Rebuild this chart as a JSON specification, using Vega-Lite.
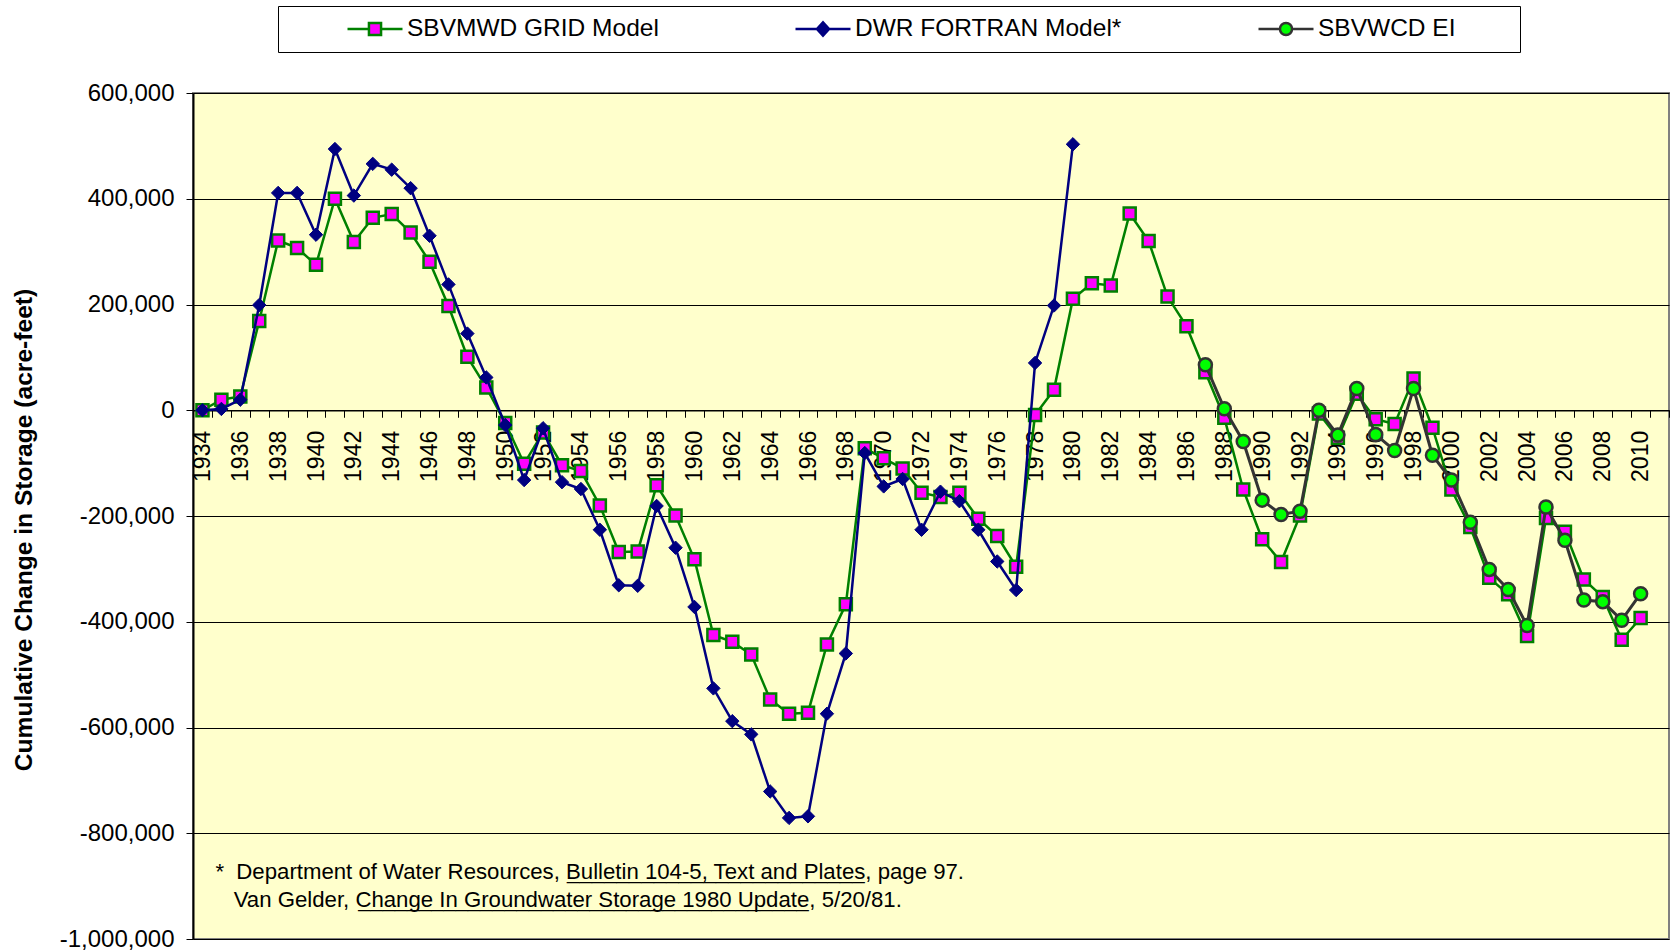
{
  "$schema": "https://vega.github.io/schema/vega-lite/v6.json",
  "width": 1476,
  "height": 846,
  "autosize": {"type": "none"},
  "padding": {"left": 193, "top": 93, "right": 4, "bottom": 13},
  "background": "#FFFFFF",
  "config": {
    "font": "Liberation Sans",
    "view": {"fill": "#FFFFCC", "stroke": "#808080", "strokeWidth": 2},
    "axis": {"labelFont": "Liberation Sans", "titleFont": "Liberation Sans", "labelColor": "#000000", "titleColor": "#000000", "tickColor": "#000000", "domainColor": "#000000"}
  },
  "data": {
    "values": [
      {"year": 1934, "s": "SBVMWD GRID Model", "v": 0},
      {"year": 1935, "s": "SBVMWD GRID Model", "v": 20000},
      {"year": 1936, "s": "SBVMWD GRID Model", "v": 26000},
      {"year": 1937, "s": "SBVMWD GRID Model", "v": 169000},
      {"year": 1938, "s": "SBVMWD GRID Model", "v": 321000},
      {"year": 1939, "s": "SBVMWD GRID Model", "v": 307000},
      {"year": 1940, "s": "SBVMWD GRID Model", "v": 275000},
      {"year": 1941, "s": "SBVMWD GRID Model", "v": 400000},
      {"year": 1942, "s": "SBVMWD GRID Model", "v": 318000},
      {"year": 1943, "s": "SBVMWD GRID Model", "v": 364000},
      {"year": 1944, "s": "SBVMWD GRID Model", "v": 371000},
      {"year": 1945, "s": "SBVMWD GRID Model", "v": 336000},
      {"year": 1946, "s": "SBVMWD GRID Model", "v": 281000},
      {"year": 1947, "s": "SBVMWD GRID Model", "v": 197000},
      {"year": 1948, "s": "SBVMWD GRID Model", "v": 101000},
      {"year": 1949, "s": "SBVMWD GRID Model", "v": 43000},
      {"year": 1950, "s": "SBVMWD GRID Model", "v": -24000},
      {"year": 1951, "s": "SBVMWD GRID Model", "v": -101000},
      {"year": 1952, "s": "SBVMWD GRID Model", "v": -42000},
      {"year": 1953, "s": "SBVMWD GRID Model", "v": -104000},
      {"year": 1954, "s": "SBVMWD GRID Model", "v": -115000},
      {"year": 1955, "s": "SBVMWD GRID Model", "v": -180000},
      {"year": 1956, "s": "SBVMWD GRID Model", "v": -268000},
      {"year": 1957, "s": "SBVMWD GRID Model", "v": -267000},
      {"year": 1958, "s": "SBVMWD GRID Model", "v": -142000},
      {"year": 1959, "s": "SBVMWD GRID Model", "v": -199000},
      {"year": 1960, "s": "SBVMWD GRID Model", "v": -282000},
      {"year": 1961, "s": "SBVMWD GRID Model", "v": -425000},
      {"year": 1962, "s": "SBVMWD GRID Model", "v": -438000},
      {"year": 1963, "s": "SBVMWD GRID Model", "v": -462000},
      {"year": 1964, "s": "SBVMWD GRID Model", "v": -547000},
      {"year": 1965, "s": "SBVMWD GRID Model", "v": -574000},
      {"year": 1966, "s": "SBVMWD GRID Model", "v": -572000},
      {"year": 1967, "s": "SBVMWD GRID Model", "v": -443000},
      {"year": 1968, "s": "SBVMWD GRID Model", "v": -367000},
      {"year": 1969, "s": "SBVMWD GRID Model", "v": -72000},
      {"year": 1970, "s": "SBVMWD GRID Model", "v": -91000},
      {"year": 1971, "s": "SBVMWD GRID Model", "v": -110000},
      {"year": 1972, "s": "SBVMWD GRID Model", "v": -156000},
      {"year": 1973, "s": "SBVMWD GRID Model", "v": -164000},
      {"year": 1974, "s": "SBVMWD GRID Model", "v": -156000},
      {"year": 1975, "s": "SBVMWD GRID Model", "v": -205000},
      {"year": 1976, "s": "SBVMWD GRID Model", "v": -238000},
      {"year": 1977, "s": "SBVMWD GRID Model", "v": -296000},
      {"year": 1978, "s": "SBVMWD GRID Model", "v": -9000},
      {"year": 1979, "s": "SBVMWD GRID Model", "v": 39000},
      {"year": 1980, "s": "SBVMWD GRID Model", "v": 211000},
      {"year": 1981, "s": "SBVMWD GRID Model", "v": 240000},
      {"year": 1982, "s": "SBVMWD GRID Model", "v": 236000},
      {"year": 1983, "s": "SBVMWD GRID Model", "v": 372000},
      {"year": 1984, "s": "SBVMWD GRID Model", "v": 320000},
      {"year": 1985, "s": "SBVMWD GRID Model", "v": 215000},
      {"year": 1986, "s": "SBVMWD GRID Model", "v": 159000},
      {"year": 1987, "s": "SBVMWD GRID Model", "v": 72000},
      {"year": 1988, "s": "SBVMWD GRID Model", "v": -14000},
      {"year": 1989, "s": "SBVMWD GRID Model", "v": -150000},
      {"year": 1990, "s": "SBVMWD GRID Model", "v": -244000},
      {"year": 1991, "s": "SBVMWD GRID Model", "v": -287000},
      {"year": 1992, "s": "SBVMWD GRID Model", "v": -199000},
      {"year": 1993, "s": "SBVMWD GRID Model", "v": -6000},
      {"year": 1994, "s": "SBVMWD GRID Model", "v": -52000},
      {"year": 1995, "s": "SBVMWD GRID Model", "v": 31000},
      {"year": 1996, "s": "SBVMWD GRID Model", "v": -17000},
      {"year": 1997, "s": "SBVMWD GRID Model", "v": -26000},
      {"year": 1998, "s": "SBVMWD GRID Model", "v": 60000},
      {"year": 1999, "s": "SBVMWD GRID Model", "v": -33000},
      {"year": 2000, "s": "SBVMWD GRID Model", "v": -150000},
      {"year": 2001, "s": "SBVMWD GRID Model", "v": -221000},
      {"year": 2002, "s": "SBVMWD GRID Model", "v": -317000},
      {"year": 2003, "s": "SBVMWD GRID Model", "v": -348000},
      {"year": 2004, "s": "SBVMWD GRID Model", "v": -427000},
      {"year": 2005, "s": "SBVMWD GRID Model", "v": -204000},
      {"year": 2006, "s": "SBVMWD GRID Model", "v": -230000},
      {"year": 2007, "s": "SBVMWD GRID Model", "v": -320000},
      {"year": 2008, "s": "SBVMWD GRID Model", "v": -353000},
      {"year": 2009, "s": "SBVMWD GRID Model", "v": -434000},
      {"year": 2010, "s": "SBVMWD GRID Model", "v": -393000},
      {"year": 1934, "s": "DWR FORTRAN Model*", "v": 0},
      {"year": 1935, "s": "DWR FORTRAN Model*", "v": 2500},
      {"year": 1936, "s": "DWR FORTRAN Model*", "v": 20000},
      {"year": 1937, "s": "DWR FORTRAN Model*", "v": 199000},
      {"year": 1938, "s": "DWR FORTRAN Model*", "v": 411000},
      {"year": 1939, "s": "DWR FORTRAN Model*", "v": 411000},
      {"year": 1940, "s": "DWR FORTRAN Model*", "v": 332000},
      {"year": 1941, "s": "DWR FORTRAN Model*", "v": 494000},
      {"year": 1942, "s": "DWR FORTRAN Model*", "v": 406000},
      {"year": 1943, "s": "DWR FORTRAN Model*", "v": 466000},
      {"year": 1944, "s": "DWR FORTRAN Model*", "v": 455000},
      {"year": 1945, "s": "DWR FORTRAN Model*", "v": 420000},
      {"year": 1946, "s": "DWR FORTRAN Model*", "v": 330000},
      {"year": 1947, "s": "DWR FORTRAN Model*", "v": 238000},
      {"year": 1948, "s": "DWR FORTRAN Model*", "v": 145000},
      {"year": 1949, "s": "DWR FORTRAN Model*", "v": 62000},
      {"year": 1950, "s": "DWR FORTRAN Model*", "v": -28000},
      {"year": 1951, "s": "DWR FORTRAN Model*", "v": -132000},
      {"year": 1952, "s": "DWR FORTRAN Model*", "v": -34000},
      {"year": 1953, "s": "DWR FORTRAN Model*", "v": -136000},
      {"year": 1954, "s": "DWR FORTRAN Model*", "v": -149000},
      {"year": 1955, "s": "DWR FORTRAN Model*", "v": -226000},
      {"year": 1956, "s": "DWR FORTRAN Model*", "v": -331000},
      {"year": 1957, "s": "DWR FORTRAN Model*", "v": -332000},
      {"year": 1958, "s": "DWR FORTRAN Model*", "v": -181000},
      {"year": 1959, "s": "DWR FORTRAN Model*", "v": -260000},
      {"year": 1960, "s": "DWR FORTRAN Model*", "v": -372000},
      {"year": 1961, "s": "DWR FORTRAN Model*", "v": -526000},
      {"year": 1962, "s": "DWR FORTRAN Model*", "v": -588000},
      {"year": 1963, "s": "DWR FORTRAN Model*", "v": -613000},
      {"year": 1964, "s": "DWR FORTRAN Model*", "v": -721000},
      {"year": 1965, "s": "DWR FORTRAN Model*", "v": -771000},
      {"year": 1966, "s": "DWR FORTRAN Model*", "v": -768000},
      {"year": 1967, "s": "DWR FORTRAN Model*", "v": -574000},
      {"year": 1968, "s": "DWR FORTRAN Model*", "v": -460000},
      {"year": 1969, "s": "DWR FORTRAN Model*", "v": -81000},
      {"year": 1970, "s": "DWR FORTRAN Model*", "v": -144000},
      {"year": 1971, "s": "DWR FORTRAN Model*", "v": -130000},
      {"year": 1972, "s": "DWR FORTRAN Model*", "v": -226000},
      {"year": 1973, "s": "DWR FORTRAN Model*", "v": -154000},
      {"year": 1974, "s": "DWR FORTRAN Model*", "v": -172000},
      {"year": 1975, "s": "DWR FORTRAN Model*", "v": -226000},
      {"year": 1976, "s": "DWR FORTRAN Model*", "v": -286000},
      {"year": 1977, "s": "DWR FORTRAN Model*", "v": -340000},
      {"year": 1978, "s": "DWR FORTRAN Model*", "v": 89500},
      {"year": 1979, "s": "DWR FORTRAN Model*", "v": 198000},
      {"year": 1980, "s": "DWR FORTRAN Model*", "v": 503000},
      {"year": 1987, "s": "SBVWCD EI", "v": 86000},
      {"year": 1988, "s": "SBVWCD EI", "v": 3000},
      {"year": 1989, "s": "SBVWCD EI", "v": -59000},
      {"year": 1990, "s": "SBVWCD EI", "v": -170000},
      {"year": 1991, "s": "SBVWCD EI", "v": -197000},
      {"year": 1992, "s": "SBVWCD EI", "v": -191000},
      {"year": 1993, "s": "SBVWCD EI", "v": 0},
      {"year": 1994, "s": "SBVWCD EI", "v": -47000},
      {"year": 1995, "s": "SBVWCD EI", "v": 41000},
      {"year": 1996, "s": "SBVWCD EI", "v": -46000},
      {"year": 1997, "s": "SBVWCD EI", "v": -76000},
      {"year": 1998, "s": "SBVWCD EI", "v": 41000},
      {"year": 1999, "s": "SBVWCD EI", "v": -85000},
      {"year": 2000, "s": "SBVWCD EI", "v": -132000},
      {"year": 2001, "s": "SBVWCD EI", "v": -212000},
      {"year": 2002, "s": "SBVWCD EI", "v": -301000},
      {"year": 2003, "s": "SBVWCD EI", "v": -339000},
      {"year": 2004, "s": "SBVWCD EI", "v": -407000},
      {"year": 2005, "s": "SBVWCD EI", "v": -183000},
      {"year": 2006, "s": "SBVWCD EI", "v": -246000},
      {"year": 2007, "s": "SBVWCD EI", "v": -359000},
      {"year": 2008, "s": "SBVWCD EI", "v": -362000},
      {"year": 2009, "s": "SBVWCD EI", "v": -397000},
      {"year": 2010, "s": "SBVWCD EI", "v": -347000}
    ]
  },
  "encoding": {
    "x": {
      "field": "year",
      "type": "ordinal",
      "scale": {
        "type": "band",
        "paddingInner": 0,
        "paddingOuter": 0,
        "domain": [1934,1935,1936,1937,1938,1939,1940,1941,1942,1943,1944,1945,1946,1947,1948,1949,1950,1951,1952,1953,1954,1955,1956,1957,1958,1959,1960,1961,1962,1963,1964,1965,1966,1967,1968,1969,1970,1971,1972,1973,1974,1975,1976,1977,1978,1979,1980,1981,1982,1983,1984,1985,1986,1987,1988,1989,1990,1991,1992,1993,1994,1995,1996,1997,1998,1999,2000,2001,2002,2003,2004,2005,2006,2007,2008,2009,2010,2011]
      },
      "axis": {
        "orient": "bottom",
        "offset": -528.75,
        "title": null,
        "grid": false,
        "tickBand": "extent",
        "tickSize": 7,
        "tickWidth": 1,
        "domainWidth": 1.5,
        "labelAngle": 270,
        "labelAlign": "right",
        "labelBaseline": "middle",
        "labelPadding": 13,
        "labelFontSize": 23,
        "labelOverlap": false,
        "labelExpr": "datum.value % 2 == 0 ? datum.label : ''"
      }
    },
    "y": {
      "field": "v",
      "type": "quantitative",
      "scale": {"domain": [-1000000, 600000], "nice": false, "zero": false},
      "axis": {
        "title": "Cumulative Change in Storage (acre-feet)",
        "titleFontSize": 24.6,
        "titleFontWeight": "bold",
        "titleX": -161.5,
        "titleY": 436.5,
        "titleBaseline": "alphabetic",
        "titleAngle": 270,
        "values": [-1000000, -800000, -600000, -400000, -200000, 0, 200000, 400000, 600000],
        "labelExpr": "replace(format(datum.value, ','), '\u2212', '-')",
        "labelFontSize": 24,
        "labelPadding": 12,
        "tickSize": 7,
        "tickWidth": 1,
        "domainWidth": 2,
        "grid": true,
        "gridColor": "#000000",
        "gridWidth": 1,
        "gridOpacity": 1
      }
    }
  },
  "layer": [
    {
      "transform": [{"filter": "datum.s == 'SBVMWD GRID Model'"}],
      "mark": {"type": "line", "strokeWidth": 2.5},
      "encoding": {
        "stroke": {
          "field": "s",
          "type": "nominal",
          "scale": {"domain": ["SBVMWD GRID Model", "DWR FORTRAN Model*", "SBVWCD EI"], "range": ["#008000", "#000080", "#333333"]},
          "legend": {
            "orient": "none",
            "legendX": 85,
            "legendY": -87,
            "direction": "horizontal",
            "title": "\u00a0",
            "titleOrient": "left",
            "titleFontSize": 24,
            "titlePadding": 58,
            "labelFontSize": 24.5,
            "labelFont": "Liberation Sans",
            "labelColor": "#000000",
            "labelLimit": 1000,
            "labelOffset": 3,
            "labelExpr": "datum.label == 'SBVWCD EI' ? datum.label + '\u00a0\u00a0\u00a0\u00a0\u00a0\u00a0\u00a0\u00a0\u200b' : datum.label",
            "symbolSize": 3025,
            "symbolStrokeWidth": 2.5,
            "columnPadding": 135,
            "padding": 10,
            "clipHeight": 26,
            "strokeColor": "#000000",
            "fillColor": "#FFFFFF",
            "encode": {
              "symbols": {
                "update": {
                  "shape": {"signal": "datum.value == 'SBVMWD GRID Model' ? 'M-1,0H-0.22M0.22,0H1M-0.22,-0.22H0.22V0.22H-0.22Z' : datum.value == 'DWR FORTRAN Model*' ? 'M-1,0H-0.22M0.22,0H1M0,-0.24L0.22,0L0,0.24L-0.22,0Z' : 'M-1,0H-0.22M0.22,0H1M0.22,0A0.22,0.22,0,1,1,-0.22,0A0.22,0.22,0,1,1,0.22,0Z'"},
                  "fill": {"scale": "fill", "field": "value"},
                  "stroke": {"scale": "stroke", "field": "value"},
                  "strokeWidth": {"value": 2.5},
                  "opacity": {"value": 1},
                  "size": {"value": 3025}
                }
              }
            }
          }
        }
      }
    },
    {
      "transform": [{"filter": "datum.s == 'SBVMWD GRID Model'"}],
      "mark": {"type": "point", "shape": "square", "filled": true, "size": 144, "strokeWidth": 2.5, "opacity": 1},
      "encoding": {
        "stroke": {"field": "s", "type": "nominal"},
        "fill": {
          "field": "s",
          "type": "nominal",
          "scale": {"domain": ["SBVMWD GRID Model", "DWR FORTRAN Model*", "SBVWCD EI"], "range": ["#FF00FF", "#000080", "#00FF00"]}
        }
      }
    },
    {
      "transform": [{"filter": "datum.s == 'DWR FORTRAN Model*'"}],
      "mark": {"type": "line", "strokeWidth": 2.5},
      "encoding": {"stroke": {"field": "s", "type": "nominal"}}
    },
    {
      "transform": [{"filter": "datum.s == 'DWR FORTRAN Model*'"}],
      "mark": {"type": "point", "shape": "diamond", "filled": true, "size": 180, "strokeWidth": 1, "opacity": 1},
      "encoding": {
        "stroke": {"field": "s", "type": "nominal"},
        "fill": {"field": "s", "type": "nominal"}
      }
    },
    {
      "transform": [{"filter": "datum.s == 'SBVWCD EI'"}],
      "mark": {"type": "line", "strokeWidth": 3},
      "encoding": {"stroke": {"field": "s", "type": "nominal"}}
    },
    {
      "transform": [{"filter": "datum.s == 'SBVWCD EI'"}],
      "mark": {"type": "point", "shape": "circle", "filled": true, "size": 169, "strokeWidth": 2.5, "opacity": 1},
      "encoding": {
        "stroke": {"field": "s", "type": "nominal"},
        "fill": {"field": "s", "type": "nominal"}
      }
    },
    {
      "data": {"values": [{"year": 1935, "v": -887000, "t": "*\u00a0\u00a0Department of Water Resources, Bulletin 104-5, Text and Plates, page 97."}]},
      "mark": {"type": "text", "align": "left", "baseline": "alphabetic", "fontSize": 22.2, "dx": -6, "color": "#000000", "font": "Liberation Sans"},
      "encoding": {"text": {"field": "t", "type": "nominal"}}
    },
    {
      "data": {"values": [{"year": 1935, "v": -939000, "t": "Van Gelder, Change In Groundwater Storage 1980 Update, 5/20/81."}]},
      "mark": {"type": "text", "align": "left", "baseline": "alphabetic", "fontSize": 22.2, "dx": 12.3, "color": "#000000", "font": "Liberation Sans"},
      "encoding": {"text": {"field": "t", "type": "nominal"}}
    },
    {
      "data": {"values": [{"year": 1935, "v": -887000, "t": "________________________"}]},
      "mark": {"type": "text", "align": "left", "baseline": "alphabetic", "fontSize": 22.3, "dx": 345.6, "color": "#000000", "font": "Liberation Sans"},
      "encoding": {"text": {"field": "t", "type": "nominal"}}
    },
    {
      "data": {"values": [{"year": 1935, "v": -939000, "t": "_____________________________________"}]},
      "mark": {"type": "text", "align": "left", "baseline": "alphabetic", "fontSize": 21.9, "dx": 136.9, "color": "#000000", "font": "Liberation Sans"},
      "encoding": {"text": {"field": "t", "type": "nominal"}}
    }
  ]
}
